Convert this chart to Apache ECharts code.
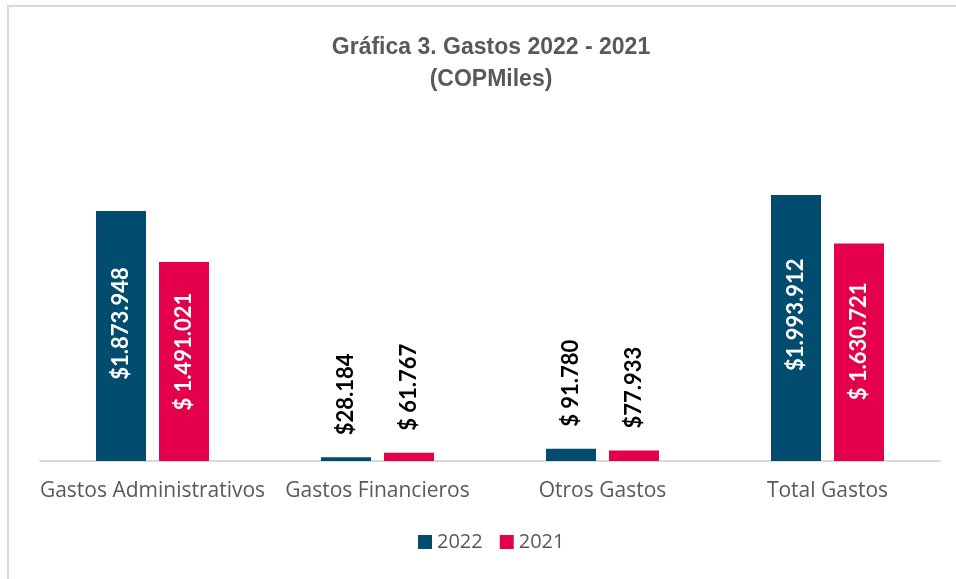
<!DOCTYPE html>
<html>
<head>
<meta charset="utf-8">
<script src="https://cdn.jsdelivr.net/npm/echarts@6/dist/echarts.min.js"></script>
<style>
  html, body { margin: 0; padding: 0; background: #fff; }
  #chart { width: 956px; height: 579px; }
</style>
</head>
<body>
<div id="chart"></div>
<script>
const categories = ['Gastos Administrativos', 'Gastos Financieros', 'Otros Gastos', 'Total Gastos']
const values2022 = [1873948, 28184, 91780, 1993912]
const values2021 = [1491021, 61767, 77933, 1630721]
const labels2022 = ['$1.873.948', '$28.184', '$ 91.780', '$1.993.912']
const labels2021 = ['$ 1.491.021', '$ 61.767', '$77.933', '$ 1.630.721']

const blue = '#024c70'
const pink = '#e4004b'
const textFont = '"Open Sans", sans-serif'
const labelFont = 'Lato, "Open Sans", sans-serif'

function buildData(values, labels) {
  return values.map((v, i) => {
    const small = v < 500000
    return {
      value: v,
      label: small ? {
        show: true,
        position: 'top',
        rotate: 90,
        align: 'left',
        verticalAlign: 'middle',
        distance: 22,
        color: '#000',
        formatter: labels[i]
      } : {
        show: true,
        position: ['50%', '45%'],
        rotate: 90,
        align: 'center',
        verticalAlign: 'middle',
        color: '#fff',
        formatter: labels[i]
      }
    }
  })
}

const chart = echarts.init(document.getElementById('chart'))

const option = {
  animation: false,
  backgroundColor: '#fff',
  graphic: [
    {
      type: 'rect',
      shape: { x: 8, y: 6, width: 1200, height: 1200 },
      style: { fill: 'none', stroke: '#d9d9d9', lineWidth: 2 },
      silent: true
    }
  ],
  title: {
    text: 'Gráfica 3. Gastos 2022 - 2021\n(COPMiles)',
    left: 486,
    top: 27,
    textAlign: 'center',
    textStyle: {
      fontFamily: '"Liberation Sans Narrow", "Liberation Sans", Arial, sans-serif',
      fontSize: 23,
      fontWeight: 'bold',
      color: '#595959',
      lineHeight: 32
    }
  },
  legend: {
    data: ['2022', '2021'],
    left: 418,
    top: 532,
    padding: 0,
    itemWidth: 14,
    itemHeight: 14,
    itemGap: 17,
    icon: 'rect',
    textStyle: {
      fontFamily: textFont,
      fontSize: 20,
      color: '#595959'
    }
  },
  grid: {
    left: 40,
    right: 16,
    top: 127.5,
    bottom: 118,
    containLabel: false
  },
  xAxis: {
    type: 'category',
    data: categories,
    axisLine: { lineStyle: { color: '#d9d9d9', width: 2 } },
    axisTick: { show: false },
    axisLabel: {
      fontFamily: textFont,
      fontSize: 21,
      color: '#595959',
      margin: 20,
      interval: 0
    }
  },
  yAxis: {
    type: 'value',
    min: 0,
    max: 2500000,
    show: false,
    splitLine: { show: false }
  },
  series: [
    {
      name: '2022',
      type: 'bar',
      barWidth: 50,
      barGap: '26%',
      itemStyle: { color: blue },
      label: {
        fontFamily: labelFont,
        fontSize: 22,
        fontWeight: 'bold'
      },
      data: buildData(values2022, labels2022)
    },
    {
      name: '2021',
      type: 'bar',
      barWidth: 50,
      barGap: '26%',
      itemStyle: { color: pink },
      label: {
        fontFamily: labelFont,
        fontSize: 22,
        fontWeight: 'bold'
      },
      data: buildData(values2021, labels2021)
    }
  ]
}

chart.setOption(option)
</script>
</body>
</html>
